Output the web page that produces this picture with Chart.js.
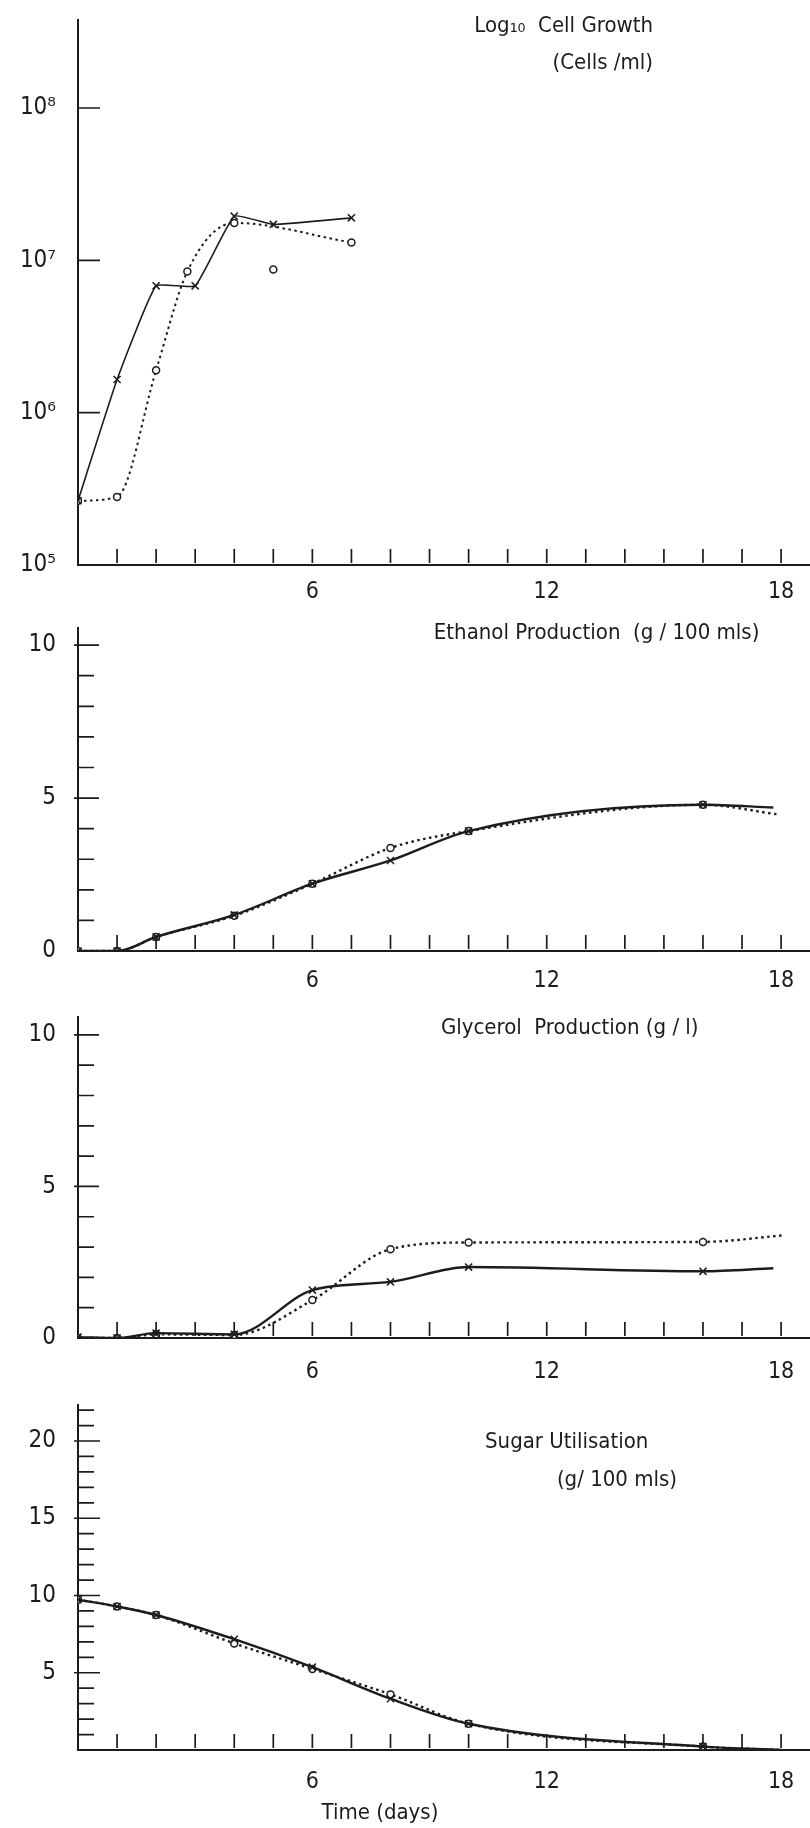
<!DOCTYPE html>
<html>
<head>
<meta charset="utf-8">
<script src="https://cdn.jsdelivr.net/npm/chart.js@4.4.0/dist/chart.umd.min.js"></script>
<style>
  html, body { margin: 0; padding: 0; background: #fff; }
  body { width: 810px; height: 1828px; position: relative; overflow: hidden; }
  canvas { position: absolute; left: 0; }
</style>
</head>
<body>
<canvas id="cells" width="810" height="615" style="top:0"></canvas>
<canvas id="ethanol" width="810" height="400" style="top:600px"></canvas>
<canvas id="glycerol" width="810" height="390" style="top:1000px"></canvas>
<canvas id="sugar" width="810" height="438" style="top:1390px"></canvas>
<script>
// shared time axis (days)
const dayTicks = [1, 2, 3, 4, 5, 6, 7, 8, 9, 10, 11, 12, 13, 14, 15, 16, 17, 18];
const dayLabels = [6, 12, 18];
const dayMax = 18.74;

// Log10 cell growth (cells/ml)
const cellDaysX = [0, 1, 2, 3, 4, 5, 7];
const cellX = [2.64e5, 1.65e6, 6.8e6, 6.8e6, 1.95e7, 1.72e7, 1.9e7];
const cellDaysO = [0, 1, 2, 2.8, 4, 7];
const cellO = [2.64e5, 2.8e5, 1.9e6, 8.45e6, 1.76e7, 1.31e7];
const cellStrayDays = [5];
const cellStray = [8.7e6];
const cellTicks = [1e5, 1e6, 1e7, 1e8];

// Ethanol production (g / 100 mls)
const ethDaysX = [0, 1, 2, 4, 6, 8, 10, 16, 17.8];
const ethX = [0, 0, 0.46, 1.18, 2.2, 2.96, 3.92, 4.78, 4.69];
const ethDaysO = [0, 1, 2, 4, 6, 8, 10, 16, 17.9];
const ethO = [0, 0, 0.46, 1.15, 2.2, 3.37, 3.92, 4.78, 4.47];

// Glycerol production (g / l)
const glyDaysX = [0, 1, 2, 4, 6, 8, 10, 16, 17.8];
const glyX = [0.03, 0, 0.16, 0.12, 1.58, 1.85, 2.34, 2.2, 2.3];
const glyDaysO = [0, 1, 2, 4, 6, 8, 10, 16, 18.1];
const glyO = [0, 0, 0.12, 0.1, 1.25, 2.93, 3.15, 3.17, 3.39];

// Sugar utilisation (g / 100 mls)
const sugDaysX = [0, 1, 2, 4, 6, 8, 10, 16, 18];
const sugX = [9.73, 9.29, 8.74, 7.17, 5.36, 3.32, 1.7, 0.22, 0];
const sugDaysO = [0, 1, 2, 4, 6, 8, 10, 16, 18];
const sugO = [9.73, 9.29, 8.74, 6.9, 5.25, 3.6, 1.7, 0.22, 0];

const ink = '#1c1c1c';
const face = '"Liberation Sans Narrow", "DejaVu Sans Condensed", "Arial Narrow", sans-serif';
const sup = { 5: '⁵', 6: '⁶', 7: '⁷', 8: '⁸' };

const pts = (xs, ys) => xs.map((x, i) => ({ x, y: ys[i] }));
const upTo = (n, skip) => Array.from({ length: n }, (_, i) => i + 1).filter(v => !skip.includes(v));
const noPad = s => { s.paddingLeft = 0; s.paddingRight = 0; s.paddingTop = 0; s.paddingBottom = 0; };

// inward tick marks + panel captions, placed through the chart scales
const panelMarks = {
  id: 'panelMarks',
  afterDraw(chart, args, o) {
    const { ctx, chartArea: a, scales: { x, y } } = chart;
    ctx.save();
    ctx.strokeStyle = ink;
    ctx.lineWidth = 1.7;
    ctx.beginPath();
    o.days.forEach(d => {
      const px = x.getPixelForValue(d);
      ctx.moveTo(px, a.bottom - 2);
      ctx.lineTo(px, a.bottom - 16);
    });
    o.major.forEach(v => {
      const py = y.getPixelForValue(v);
      ctx.moveTo(a.left - o.out, py);
      ctx.lineTo(a.left + o.majorLen, py);
    });
    o.minor.forEach(v => {
      const py = y.getPixelForValue(v);
      ctx.moveTo(a.left, py);
      ctx.lineTo(a.left + 16, py);
    });
    ctx.stroke();
    ctx.fillStyle = ink;
    ctx.font = '22px ' + face;
    ctx.textBaseline = 'middle';
    o.texts.forEach(t => {
      ctx.textAlign = t.align;
      ctx.fillText(t.text, x.getPixelForValue(t.day), y.getPixelForValue(t.value));
    });
    ctx.restore();
  }
};

function solid(data, ends) {
  return {
    data, borderColor: ink, borderWidth: 2.4, backgroundColor: ink,
    cubicInterpolationMode: 'monotone',
    pointStyle: 'crossRot', pointBorderColor: ink, pointBorderWidth: 1.5,
    pointRadius: c => (ends && c.dataIndex === data.length - 1) ? 0 : 5
  };
}

function dotted(data, ends) {
  return {
    data, borderColor: ink, borderWidth: 2.4, borderDash: [2.5, 3.5],
    cubicInterpolationMode: 'monotone',
    pointStyle: 'circle', pointBackgroundColor: '#fff', pointBorderColor: ink, pointBorderWidth: 1.5,
    pointRadius: c => (ends && c.dataIndex === data.length - 1) ? 0 : 3.5
  };
}

function dayAxis(height, pad) {
  return {
    type: 'linear', min: 0, max: dayMax,
    grid: { display: false },
    border: { display: true, color: ink, width: 2 },
    ticks: {
      stepSize: 1, autoSkip: false, includeBounds: false, maxRotation: 0,
      padding: pad, color: ink, font: { family: face, size: 23 },
      callback: v => dayLabels.includes(v) ? String(v) : ''
    },
    afterFit: s => { s.height = height; noPad(s); }
  };
}

function valueAxis(max, labels) {
  return {
    type: 'linear', min: 0, max,
    grid: { display: false },
    border: { display: true, color: ink, width: 2 },
    ticks: {
      stepSize: 1, autoSkip: false, includeBounds: false,
      padding: 14, color: ink, font: { family: face, size: 24 },
      callback: v => labels.includes(v) ? String(v) : ''
    },
    afterFit: s => { s.width = 78; noPad(s); }
  };
}

function panel(id, datasets, yAxis, xAxis, top, marks) {
  return new Chart(document.getElementById(id), {
    type: 'line',
    data: { datasets },
    options: {
      responsive: false, animation: false,
      layout: { autoPadding: false, padding: { top, right: 0, bottom: 0, left: 0 } },
      scales: { x: xAxis, y: yAxis },
      plugins: { legend: { display: false }, tooltip: { enabled: false }, panelMarks: marks }
    },
    plugins: [panelMarks]
  });
}

// 1. cell growth, log scale
panel('cells', [
  Object.assign(solid(pts(cellDaysX, cellX), false), { borderWidth: 1.6, cubicInterpolationMode: 'default', tension: 0.12 }),
  Object.assign(dotted(pts(cellDaysO, cellO), false), { borderWidth: 2 }),
  Object.assign(dotted(pts(cellStrayDays, cellStray), false), { showLine: false })
], {
  type: 'logarithmic', min: 1e5, max: 3.78e8,
  grid: { display: false },
  border: { display: true, color: ink, width: 2 },
  afterBuildTicks: s => { s.ticks = cellTicks.map(v => ({ value: v })); },
  ticks: {
    padding: 14, color: ink, font: { family: face, size: 24 },
    callback: v => '10' + sup[Math.round(Math.log10(v))]
  },
  afterFit: s => { s.width = 78; noPad(s); }
}, dayAxis(50, 5), 20, {
  days: dayTicks, major: [1e6, 1e7, 1e8], minor: [], out: 0, majorLen: 22,
  texts: [
    { text: 'Log₁₀  Cell Growth', day: 14.72, value: 3.46e8, align: 'right' },
    { text: '(Cells /ml)', day: 14.72, value: 1.98e8, align: 'right' }
  ]
});

// 2. ethanol
panel('ethanol', [solid(pts(ethDaysX, ethX), true), dotted(pts(ethDaysO, ethO), true)],
  valueAxis(10.56, [0, 5, 10]), dayAxis(49, 8), 28, {
    days: dayTicks, major: [5, 10], minor: upTo(9, [5]), out: 4, majorLen: 21,
    texts: [{ text: 'Ethanol Production  (g / 100 mls)', day: 9.11, value: 10.39, align: 'left' }]
  });

// 3. glycerol
panel('glycerol', [solid(pts(glyDaysX, glyX), true), dotted(pts(glyDaysO, glyO), true)],
  valueAxis(10.59, [0, 5, 10]), dayAxis(52, 12), 17, {
    days: dayTicks, major: [5, 10], minor: upTo(9, [5]), out: 4, majorLen: 21,
    texts: [{ text: 'Glycerol  Production (g / l)', day: 9.29, value: 10.23, align: 'left' }]
  });

// 4. sugar
panel('sugar', [solid(pts(sugDaysX, sugX), true), dotted(pts(sugDaysO, sugO), true)],
  valueAxis(22.33, [5, 10, 15, 20]), dayAxis(78, 10), 15, {
    days: dayTicks, major: [5, 10, 15, 20], minor: upTo(22, [5, 10, 15, 20]), out: 4, majorLen: 22,
    texts: [
      { text: 'Sugar Utilisation', day: 10.42, value: 19.94, align: 'left' },
      { text: '(g/ 100 mls)', day: 12.26, value: 17.48, align: 'left' },
      { text: 'Time (days)', day: 7.73, value: -4.08, align: 'center' }
    ]
  });
</script>
</body>
</html>
